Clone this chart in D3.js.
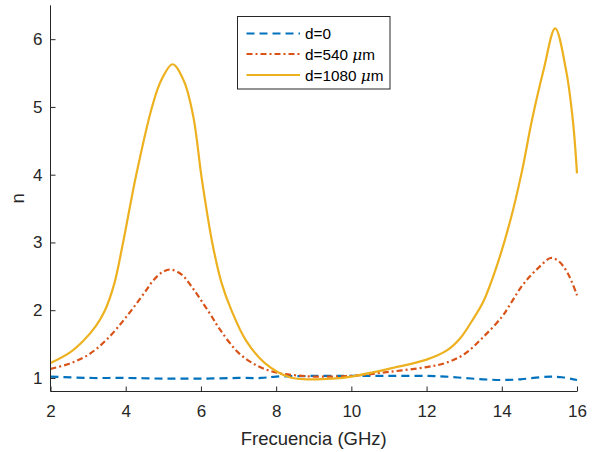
<!DOCTYPE html>
<html>
<head>
<meta charset="utf-8">
<script src="https://cdn.jsdelivr.net/npm/d3@7"></script>
<style>
  html, body { margin: 0; padding: 0; background: #fff; }
  svg { display: block; font-family: "Liberation Sans", Arial, Helvetica, sans-serif; }
</style>
</head>
<body>
<svg id="chart" width="601" height="452"></svg>
<script>
// ---- data ----
const freq0 = [2, 3, 4, 5, 6, 7, 7.6, 8, 9, 10, 11, 12, 12.5, 13, 13.5, 14, 14.5, 15, 15.3, 15.6, 16];
const n0    = [1.02, 1.0, 1.0, 0.99, 0.99, 1.0, 1.0, 1.02, 1.03, 1.03, 1.03, 1.03, 1.02, 1.0, 0.98, 0.97, 0.98, 1.01, 1.02, 1.01, 0.97];

const freq540 = [2, 2.5, 3, 3.5, 4, 4.5, 4.75, 5, 5.2, 5.5, 5.75, 6, 6.25, 6.5, 7, 7.5, 8, 8.5, 9, 10, 11, 12, 12.5, 13, 13.5, 14, 14.25, 14.5, 14.75, 15, 15.3, 15.5, 15.75, 16];
const n540    = [1.135, 1.21, 1.34, 1.57, 1.89, 2.26, 2.45, 2.57, 2.6, 2.52, 2.35, 2.15, 1.94, 1.72, 1.37, 1.18, 1.08, 1.04, 1.02, 1.03, 1.09, 1.16, 1.22, 1.35, 1.6, 1.9, 2.11, 2.33, 2.5, 2.64, 2.77, 2.73, 2.55, 2.22];

const freq1080 = [2, 2.5, 2.875, 3.2, 3.45, 3.7, 3.93, 4.28, 4.7, 4.95, 5.245, 5.55, 5.8, 6.02, 6.3, 6.55, 6.81, 7.2, 7.7, 8.36, 8.82, 9.5, 10, 11.12, 12, 12.55, 12.9, 13.25, 13.52, 13.83, 14.23, 14.54, 14.8, 15.11, 15.42, 15.71, 15.89, 16];
const n1080    = [1.22, 1.37, 1.55, 1.76, 2.0, 2.4, 3.0, 4.0, 5.0, 5.4, 5.63, 5.38, 4.85, 3.95, 3.0, 2.4, 2.0, 1.55, 1.22, 1.01, 0.98, 0.99, 1.02, 1.15, 1.27, 1.41, 1.59, 1.88, 2.14, 2.59, 3.33, 4.06, 4.8, 5.54, 6.16, 5.54, 4.8, 4.02];

const xTicks = [2, 4, 6, 8, 10, 12, 14, 16];
const yTicks = [1, 2, 3, 4, 5, 6];
const xLabel = "Frecuencia (GHz)";
const yLabel = "n";

// ---- layout ----
const svg = d3.select("#chart");
const mLeft = 50.5, mRight = 577, mTop = 5.3, mBottom = 391.5;
const x = d3.scaleLinear().domain([2, 16]).range([mLeft, mRight]);
const y = d3.scaleLinear().domain([0.8, 6.5]).range([mBottom, mTop]);
const axisColor = "#262626";

const series = [
  { name: "d=0", xs: freq0, ys: n0, color: "#0072BD", dash: "8,5", mu: false },
  { name: "d=540 ", xs: freq540, ys: n540, color: "#D95319", dash: "6,3,2,3", mu: true },
  { name: "d=1080 ", xs: freq1080, ys: n1080, color: "#EDB120", dash: null, mu: true }
];

const line = d3.line().x(d => x(d[0])).y(d => y(d[1])).curve(d3.curveCatmullRom.alpha(0.5));

const plot = svg.append("g");
series.forEach(s => {
  const pts = s.xs.map((v, i) => [v, s.ys[i]]);
  plot.append("path")
    .attr("d", line(pts))
    .attr("fill", "none")
    .attr("stroke", s.color)
    .attr("stroke-width", 2.2)
    .attr("stroke-dasharray", s.dash);
});

// ---- axes ----
const xAxis = d3.axisBottom(x).tickValues(xTicks).tickFormat(d3.format("d")).tickSize(-5).tickSizeOuter(0).tickPadding(13);
const gx = svg.append("g").attr("transform", `translate(0,${mBottom})`).call(xAxis);
const yAxis = d3.axisLeft(y).tickValues(yTicks).tickFormat(d3.format("d")).tickSize(-5).tickSizeOuter(0).tickPadding(8);
const gy = svg.append("g").attr("transform", `translate(${mLeft},0)`).call(yAxis);

[gx, gy].forEach(g => {
  g.select(".domain").attr("stroke", axisColor).attr("stroke-width", 1);
  g.selectAll(".tick line").attr("stroke", axisColor).attr("stroke-width", 1);
  g.selectAll(".tick text").attr("fill", axisColor).style("font-size", "17px")
    .style("font-family", '"Liberation Sans", Arial, sans-serif');
});
gx.select(".domain").attr("d", `M${mLeft},0H${mRight}`);
gy.select(".domain").attr("d", `M0,${mBottom}V${mTop}`);

svg.append("text")
  .attr("x", (mLeft + mRight) / 2).attr("y", 445)
  .attr("text-anchor", "middle").attr("fill", axisColor)
  .style("font-size", "18.5px").text(xLabel);

svg.append("text")
  .attr("transform", `translate(24,${(mTop + mBottom) / 2}) rotate(-90)`)
  .attr("text-anchor", "middle").attr("fill", axisColor)
  .style("font-size", "18.5px").text(yLabel);

// ---- legend ----
const lg = svg.append("g");
lg.append("rect").attr("x", 237.5).attr("y", 16.5).attr("width", 152.5).attr("height", 72.5)
  .attr("fill", "#fff").attr("stroke", axisColor).attr("stroke-width", 1);
const rowsY = [33.5, 54, 75];
series.forEach((s, i) => {
  lg.append("line").attr("x1", 246.5).attr("x2", 300).attr("y1", rowsY[i]).attr("y2", rowsY[i])
    .attr("stroke", s.color).attr("stroke-width", 2.2).attr("stroke-dasharray", s.dash);
  const t = lg.append("text").attr("x", 305).attr("y", rowsY[i]).attr("dy", "0.36em")
    .attr("fill", "#000").style("font-size", "15.3px").text(s.name);
  if (s.mu) {
    t.append("tspan").style("font-style", "italic").style("font-family", '"DejaVu Serif", "Liberation Serif", serif').text("\u03BC");
    t.append("tspan").text("m");
  }
});
</script>
</body>
</html>
